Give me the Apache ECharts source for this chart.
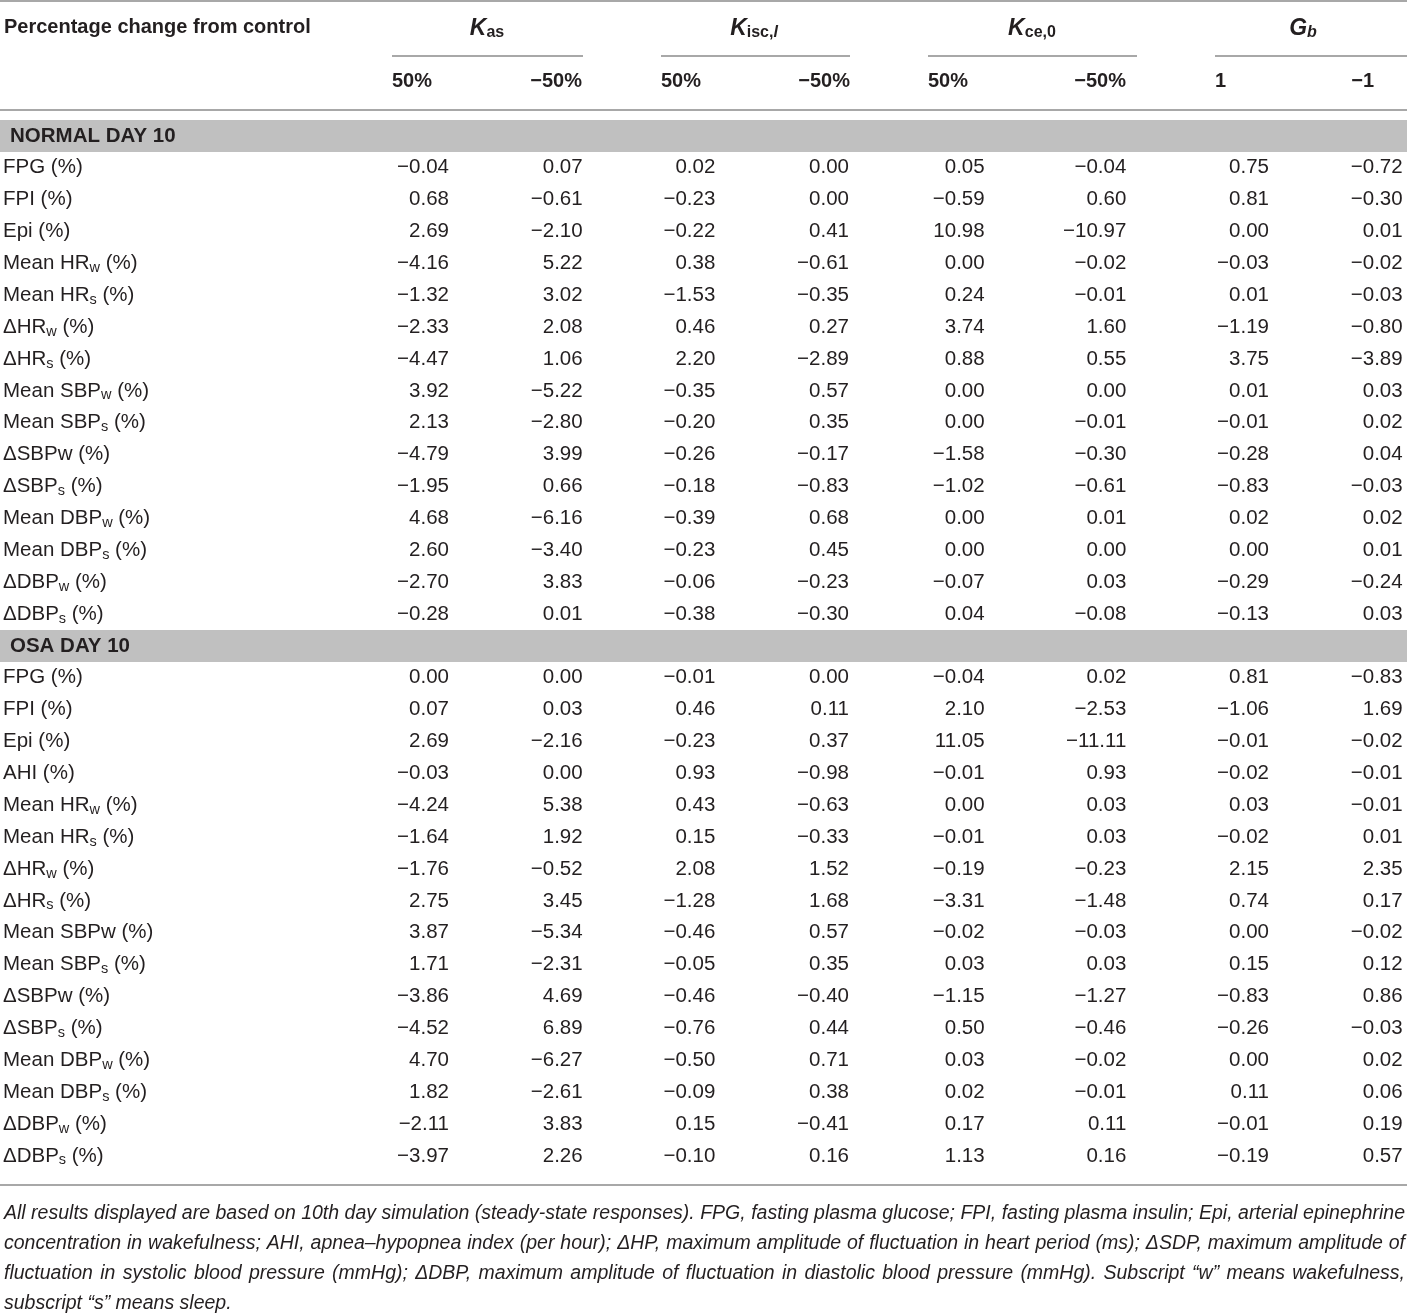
<!DOCTYPE html>
<html><head><meta charset="utf-8">
<script src="https://cdn.jsdelivr.net/npm/echarts@6/dist/echarts.min.js"></script>
<style>html,body{margin:0;padding:0;background:#fff}#c{width:1407px;height:1315px}</style>
</head><body><div id="c"></div>
<script>
// ---------- data ----------
const stubHeader = 'Percentage change from control';
const groupHeaders = [['K', 'as', ''], ['K', 'isc,', 'l'], ['K', 'ce,0', ''], ['G', '', 'b']];
const subHeaders = ['50%', '\u221250%', '50%', '\u221250%', '50%', '\u221250%', '1', '\u22121'];
const sections = ['NORMAL DAY 10', 'OSA DAY 10'];

const normalRows = ['FPG (%)', 'FPI (%)', 'Epi (%)', 'Mean HR_w (%)', 'Mean HR_s (%)', '\u0394HR_w (%)', '\u0394HR_s (%)',
  'Mean SBP_w (%)', 'Mean SBP_s (%)', '\u0394SBPw (%)', '\u0394SBP_s (%)', 'Mean DBP_w (%)', 'Mean DBP_s (%)', '\u0394DBP_w (%)', '\u0394DBP_s (%)'];
const normalValues = [
  [-0.04, 0.07, 0.02, 0.00, 0.05, -0.04, 0.75, -0.72],
  [0.68, -0.61, -0.23, 0.00, -0.59, 0.60, 0.81, -0.30],
  [2.69, -2.10, -0.22, 0.41, 10.98, -10.97, 0.00, 0.01],
  [-4.16, 5.22, 0.38, -0.61, 0.00, -0.02, -0.03, -0.02],
  [-1.32, 3.02, -1.53, -0.35, 0.24, -0.01, 0.01, -0.03],
  [-2.33, 2.08, 0.46, 0.27, 3.74, 1.60, -1.19, -0.80],
  [-4.47, 1.06, 2.20, -2.89, 0.88, 0.55, 3.75, -3.89],
  [3.92, -5.22, -0.35, 0.57, 0.00, 0.00, 0.01, 0.03],
  [2.13, -2.80, -0.20, 0.35, 0.00, -0.01, -0.01, 0.02],
  [-4.79, 3.99, -0.26, -0.17, -1.58, -0.30, -0.28, 0.04],
  [-1.95, 0.66, -0.18, -0.83, -1.02, -0.61, -0.83, -0.03],
  [4.68, -6.16, -0.39, 0.68, 0.00, 0.01, 0.02, 0.02],
  [2.60, -3.40, -0.23, 0.45, 0.00, 0.00, 0.00, 0.01],
  [-2.70, 3.83, -0.06, -0.23, -0.07, 0.03, -0.29, -0.24],
  [-0.28, 0.01, -0.38, -0.30, 0.04, -0.08, -0.13, 0.03]
];
const osaRows = ['FPG (%)', 'FPI (%)', 'Epi (%)', 'AHI (%)', 'Mean HR_w (%)', 'Mean HR_s (%)', '\u0394HR_w (%)', '\u0394HR_s (%)',
  'Mean SBPw (%)', 'Mean SBP_s (%)', '\u0394SBPw (%)', '\u0394SBP_s (%)', 'Mean DBP_w (%)', 'Mean DBP_s (%)', '\u0394DBP_w (%)', '\u0394DBP_s (%)'];
const osaValues = [
  [0.00, 0.00, -0.01, 0.00, -0.04, 0.02, 0.81, -0.83],
  [0.07, 0.03, 0.46, 0.11, 2.10, -2.53, -1.06, 1.69],
  [2.69, -2.16, -0.23, 0.37, 11.05, -11.11, -0.01, -0.02],
  [-0.03, 0.00, 0.93, -0.98, -0.01, 0.93, -0.02, -0.01],
  [-4.24, 5.38, 0.43, -0.63, 0.00, 0.03, 0.03, -0.01],
  [-1.64, 1.92, 0.15, -0.33, -0.01, 0.03, -0.02, 0.01],
  [-1.76, -0.52, 2.08, 1.52, -0.19, -0.23, 2.15, 2.35],
  [2.75, 3.45, -1.28, 1.68, -3.31, -1.48, 0.74, 0.17],
  [3.87, -5.34, -0.46, 0.57, -0.02, -0.03, 0.00, -0.02],
  [1.71, -2.31, -0.05, 0.35, 0.03, 0.03, 0.15, 0.12],
  [-3.86, 4.69, -0.46, -0.40, -1.15, -1.27, -0.83, 0.86],
  [-4.52, 6.89, -0.76, 0.44, 0.50, -0.46, -0.26, -0.03],
  [4.70, -6.27, -0.50, 0.71, 0.03, -0.02, 0.00, 0.02],
  [1.82, -2.61, -0.09, 0.38, 0.02, -0.01, 0.11, 0.06],
  [-2.11, 3.83, 0.15, -0.41, 0.17, 0.11, -0.01, 0.19],
  [-3.97, 2.26, -0.10, 0.16, 1.13, 0.16, -0.19, 0.57]
];
const footnoteLines = [
  'All results displayed are based on 10th day simulation (steady-state responses). FPG, fasting plasma glucose; FPI, fasting plasma insulin; Epi, arterial epinephrine',
  'concentration in wakefulness; AHI, apnea\u2013hypopnea index (per hour); \u0394HP, maximum amplitude of fluctuation in heart period (ms); \u0394SDP, maximum amplitude of',
  'fluctuation in systolic blood pressure (mmHg); \u0394DBP, maximum amplitude of fluctuation in diastolic blood pressure (mmHg). Subscript \u201cw\u201d means wakefulness,',
  'subscript \u201cs\u201d means sleep.'
];

// ---------- styling / layout ----------
const FONT = '"Liberation Sans", Arial, Helvetica, sans-serif';
const INK = '#231f20';
const RULE = '#a8a8a8';
const BAND = '#c0c0c0';
const W = 1407;
const BODY_SIZE = 20.5;
const colNudge = [5, 2, -2, -5, -6, -1, 5, 2];

// rows of the table body (category axis)
const rowLabels = [];
const sectionRowIdx = [];
const cells = [];
function addSection(name, rows, vals) {
  sectionRowIdx.push(rowLabels.length);
  rowLabels.push({ text: name, section: true });
  rows.forEach((r, i) => {
    const ri = rowLabels.length;
    rowLabels.push({ text: r, section: false });
    vals[i].forEach((v, c) => cells.push([c, ri, v]));
  });
}
addSection(sections[0], normalRows, normalValues);
addSection(sections[1], osaRows, osaValues);

function richLabel(o) {
  if (o.section) return '{sec|' + o.text + '}';
  return o.text.replace(/_([a-z])/g, '{sub|$1}');
}
function fmt(v) {
  const s = Math.abs(v).toFixed(2);
  return (v < 0 ? '\u2212' : '') + s;
}

const chart = echarts.init(document.getElementById('c'), null, { renderer: 'canvas' });

// header graphics
const graphic = [];
function rule(x1, x2, y) {
  graphic.push({ type: 'rect', shape: { x: x1, y: y - 1, width: x2 - x1, height: 2 }, style: { fill: RULE }, silent: true });
}
rule(0, W, 1);
rule(0, W, 110);
rule(0, W, 1185);
const groupSpans = [[392, 583], [661, 850], [928, 1137], [1215, W]];
const groupCenters = [487, 754, 1032, 1303];
groupSpans.forEach(s => rule(s[0], s[1], 56));

graphic.push({ type: 'text', x: 4, y: 27, style: { text: stubHeader, fontFamily: FONT, fontSize: 20, fontWeight: 'bold', fill: INK, align: 'left', verticalAlign: 'middle', textAlign: 'left', textVerticalAlign: 'middle' } });

groupHeaders.forEach((g, i) => {
  let t = '{k|' + g[0] + '}';
  if (g[1]) t += '{s|' + g[1] + '}';
  if (g[2]) t += '{si|' + g[2] + '}';
  graphic.push({
    type: 'text', x: groupCenters[i], y: 29,
    style: {
      text: t, align: 'center', verticalAlign: 'middle', textAlign: 'center', textVerticalAlign: 'middle',
      fill: INK, fontFamily: FONT, fontSize: 21, lineHeight: 24,
      rich: {
        k: { fontFamily: FONT, fontSize: 23, fontWeight: 'bold', fontStyle: 'italic', lineHeight: 24, fill: INK, color: INK },
        s: { fontFamily: FONT, fontSize: 16, fontWeight: 'bold', lineHeight: 16, verticalAlign: 'bottom', fill: INK, color: INK },
        si: { fontFamily: FONT, fontSize: 16, fontWeight: 'bold', fontStyle: 'italic', lineHeight: 16, verticalAlign: 'bottom', fill: INK, color: INK }
      }
    }
  });
});

const subHeaderAnchors = [[392, 'left'], [582, 'right'], [661, 'left'], [850, 'right'], [928, 'left'], [1126, 'right'], [1215, 'left'], [1374, 'right']];
subHeaders.forEach((s, i) => {
  const a = subHeaderAnchors[i];
  graphic.push({ type: 'text', x: a[0], y: 81, style: { text: s, fontFamily: FONT, fontSize: 20, fontWeight: 'bold', fill: INK, align: a[1], verticalAlign: 'middle', textAlign: a[1], textVerticalAlign: 'middle' } });
});

// footnote: justified lines; font size fitted so that the first line has natural spacing
const mctx = document.createElement('canvas').getContext('2d');
const FN_L = 4, FN_R = 1405;
mctx.font = 'italic 18px ' + FONT;
let fnSize = 18 * (FN_R - FN_L) / mctx.measureText(footnoteLines[0]).width;
fnSize = Math.min(fnSize, 21);
const FN_FONT = 'italic ' + fnSize.toFixed(2) + 'px ' + FONT;
mctx.font = FN_FONT;
footnoteLines.forEach((line, li) => {
  const y = 1214 + li * 30;
  const words = line.split(' ');
  const widths = words.map(w => mctx.measureText(w).width);
  const total = widths.reduce((a, b) => a + b, 0);
  const justify = li < footnoteLines.length - 1;
  const gap = justify ? (FN_R - FN_L - total) / (words.length - 1) : mctx.measureText(' ').width;
  let x = FN_L;
  words.forEach((w, i) => {
    graphic.push({ type: 'text', x: x, y: y, style: { text: w, font: FN_FONT, fill: INK, align: 'left', verticalAlign: 'middle', textAlign: 'left', textVerticalAlign: 'middle' } });
    x += widths[i] + gap;
  });
});

const ROWH = 31.875;
const option = {
  animation: false,
  backgroundColor: '#fff',
  grid: { left: 0, right: 0, top: 120, height: ROWH * rowLabels.length, containLabel: false },
  xAxis: { type: 'value', min: -3.2415, max: 7.0466, show: false },
  yAxis: {
    type: 'category', inverse: true, z: 10,
    data: rowLabels.map(o => o.text),
    axisLine: { show: false }, axisTick: { show: false }, splitLine: { show: false },
    axisLabel: {
      inside: true, margin: 2, interval: 0, align: 'left',
      fontFamily: FONT, fontSize: BODY_SIZE, color: INK, lineHeight: 24,
      formatter: (v, idx) => richLabel(rowLabels[idx]),
      rich: {
        sub: { fontFamily: FONT, fontSize: 14.5, color: INK, lineHeight: 14, verticalAlign: 'bottom' },
        sec: { fontFamily: FONT, fontSize: 20.5, fontWeight: 'bold', color: INK, lineHeight: 24, padding: [0, 0, 0, 7] }
      }
    }
  },
  graphic: graphic,
  series: [
    {
      type: 'custom', name: 'bands', z: 1, silent: true, clip: false,
      data: sectionRowIdx.map(r => [0, r]),
      encode: { x: 0, y: 1 },
      renderItem: (params, api) => {
        const p = api.coord([0, api.value(1)]);
        const h = api.size([0, 1])[1];
        return { type: 'rect', shape: { x: 0, y: p[1] - h / 2, width: api.getWidth(), height: h }, style: { fill: BAND } };
      }
    },
    {
      type: 'custom', name: 'cells', z: 3, silent: true, clip: false,
      data: cells,
      encode: { x: 0, y: 1 },
      renderItem: (params, api) => {
        const c = api.value(0);
        const p = api.coord([c, api.value(1)]);
        return {
          type: 'text', x: p[0] + colNudge[c], y: p[1],
          style: { text: fmt(api.value(2)), fontFamily: FONT, fontSize: BODY_SIZE, fill: INK, align: 'right', verticalAlign: 'middle', textAlign: 'right', textVerticalAlign: 'middle' }
        };
      }
    }
  ]
};
chart.setOption(option);
</script></body></html>
